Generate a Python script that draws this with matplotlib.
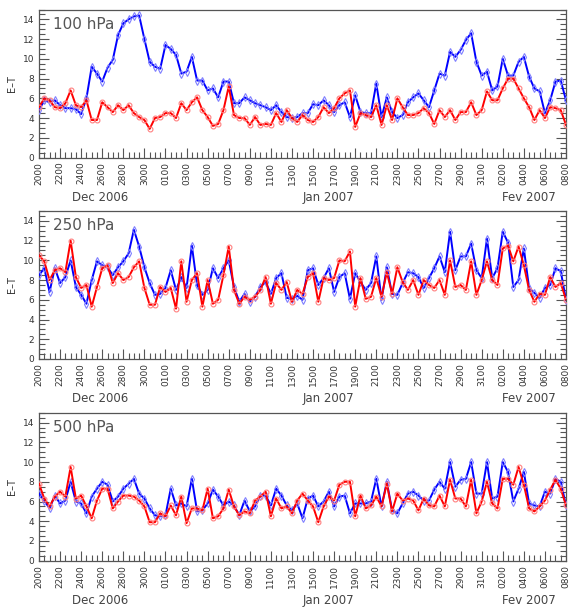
import numpy as np
import pandas as pd
import matplotlib
matplotlib.use('Agg')
import matplotlib.pyplot as plt
from matplotlib.ticker import MultipleLocator
import matplotlib.dates as mdates
import matplotlib.transforms as mtransforms

# 12-hourly E-T values, 2006-12-20 00Z .. 2007-02-08 00Z
b100 = [4.8, 5.8, 5.6, 5.8, 5.3, 5.0, 5.0, 4.9, 4.4, 6.0,
        9.2, 8.5, 7.7, 9.1, 9.9, 12.4, 13.6, 14.0, 14.3, 14.4,
        12.0, 9.7, 9.2, 9.0, 11.4, 11.0, 10.4, 8.5, 8.7, 10.2,
        7.8, 7.8, 6.8, 7.0, 6.1, 7.7, 7.7, 5.5, 5.5, 6.1,
        5.8, 5.5, 5.3, 5.1, 4.8, 5.3, 4.6, 4.1, 4.0, 4.1,
        4.5, 4.5, 5.4, 5.3, 5.8, 5.3, 4.6, 5.3, 5.6, 4.1,
        6.3, 4.6, 4.5, 4.5, 7.5, 4.1, 6.1, 4.6, 4.0, 4.3,
        5.6, 6.1, 6.5, 5.8, 5.1, 6.8, 8.5, 8.3, 10.7, 10.2,
        10.9, 11.9, 12.6, 9.7, 8.3, 8.7, 6.8, 7.2, 10.0, 8.3,
        8.3, 9.7, 10.2, 8.2, 7.0, 6.7, 4.5, 5.8, 7.7, 7.8, 5.8]
r100 = [5.1, 6.0, 5.8, 5.1, 5.0, 5.5, 6.8, 5.3, 5.1, 5.8,
        3.8, 3.8, 5.6, 5.1, 4.6, 5.3, 4.8, 5.3, 4.5, 4.1,
        3.8, 2.9, 4.0, 4.1, 4.5, 4.5, 4.0, 5.5, 4.8, 5.6,
        6.1, 4.8, 4.1, 3.2, 3.4, 4.8, 7.2, 4.3, 4.0, 4.0,
        3.3, 4.1, 3.3, 3.4, 3.3, 4.5, 3.6, 4.8, 4.0, 3.6,
        4.3, 3.8, 3.6, 4.1, 5.1, 4.5, 5.0, 6.0, 6.5, 6.8,
        3.1, 4.5, 4.3, 4.1, 5.3, 3.3, 5.3, 3.8, 6.0, 5.1,
        4.3, 4.3, 4.5, 5.0, 4.5, 3.4, 4.8, 4.1, 4.8, 3.8,
        4.6, 4.6, 5.6, 4.3, 4.8, 6.7, 5.8, 5.8, 7.0, 8.0,
        8.0, 7.0, 6.0, 5.1, 3.8, 4.8, 4.0, 5.1, 5.0, 4.8, 3.3]

b250 = [8.5, 9.2, 6.8, 9.2, 7.7, 8.3, 10.0, 7.3, 6.5, 5.6,
        8.0, 9.9, 9.5, 9.3, 8.5, 9.3, 9.9, 10.7, 13.1, 11.4,
        9.3, 7.7, 6.5, 6.6, 7.2, 9.0, 7.0, 8.3, 7.2, 11.5,
        7.5, 6.5, 7.0, 9.2, 8.2, 9.2, 10.0, 7.3, 5.8, 6.6,
        5.8, 6.3, 7.3, 7.8, 6.6, 8.2, 8.7, 6.2, 6.1, 6.4,
        6.0, 9.0, 9.2, 7.5, 8.2, 9.2, 6.8, 8.3, 8.7, 6.1,
        8.7, 7.8, 7.0, 7.7, 10.4, 6.0, 9.3, 6.6, 6.5, 7.7,
        8.8, 8.7, 8.3, 7.2, 8.2, 9.2, 10.4, 8.8, 12.9, 9.0,
        10.4, 10.4, 11.7, 9.0, 8.2, 12.2, 8.2, 9.2, 12.9, 11.8,
        7.3, 8.0, 11.2, 7.2, 6.7, 6.2, 7.2, 7.5, 9.2, 8.9, 6.0]
r250 = [10.5, 9.9, 8.0, 9.0, 9.2, 8.8, 12.0, 8.3, 7.2, 7.5,
        5.3, 7.3, 9.2, 9.5, 7.7, 8.7, 8.0, 8.3, 9.3, 9.9,
        7.2, 5.5, 5.5, 7.3, 6.8, 7.2, 5.1, 9.9, 5.8, 8.0,
        8.7, 5.3, 8.0, 5.6, 6.0, 8.5, 11.4, 7.0, 5.6, 6.3,
        6.0, 6.3, 7.0, 8.3, 5.6, 7.7, 7.0, 7.8, 5.8, 7.0,
        6.6, 8.3, 8.7, 5.8, 8.2, 8.0, 8.2, 10.0, 9.9, 10.9,
        5.3, 8.2, 6.1, 6.3, 8.2, 6.3, 8.8, 6.6, 9.3, 7.8,
        7.0, 8.0, 6.5, 8.0, 7.5, 7.2, 8.0, 6.5, 10.0, 7.3,
        7.5, 7.0, 9.9, 6.5, 8.0, 9.9, 8.0, 7.5, 11.2, 11.5,
        9.9, 11.4, 9.5, 7.0, 5.8, 6.6, 6.5, 8.3, 7.3, 7.7, 6.0]

b500 = [6.8, 6.1, 5.3, 6.6, 5.8, 6.1, 8.0, 6.0, 5.8, 4.8,
        6.5, 7.3, 8.0, 7.7, 6.0, 6.5, 7.3, 7.8, 8.3, 6.8,
        6.3, 5.3, 4.6, 4.5, 4.6, 7.3, 5.6, 5.8, 5.5, 8.3,
        5.0, 5.1, 5.8, 7.2, 6.5, 5.6, 6.0, 5.6, 4.6, 6.1,
        5.0, 5.5, 6.6, 6.6, 5.6, 7.3, 6.6, 5.6, 5.1, 5.8,
        4.3, 6.3, 6.6, 5.5, 6.0, 7.0, 5.5, 6.5, 6.6, 4.8,
        5.8, 5.8, 5.8, 6.0, 8.3, 5.5, 8.0, 5.1, 4.8, 5.8,
        6.8, 7.0, 6.6, 6.1, 6.1, 7.2, 8.0, 7.3, 10.0, 7.5,
        8.2, 8.3, 10.0, 6.8, 6.8, 10.0, 6.3, 6.5, 10.0, 9.0,
        6.0, 7.3, 9.0, 5.8, 5.6, 5.5, 7.0, 6.8, 8.3, 8.0, 5.6]
r500 = [7.8, 6.3, 5.5, 6.5, 7.0, 6.5, 9.5, 6.3, 6.6, 5.5,
        4.3, 6.1, 7.3, 7.3, 5.3, 6.0, 6.6, 6.6, 6.5, 6.1,
        5.5, 3.9, 3.9, 4.8, 4.5, 5.6, 4.6, 6.5, 3.8, 5.3,
        5.3, 5.1, 7.3, 4.3, 4.5, 5.3, 7.2, 5.5, 4.6, 5.0,
        4.8, 6.1, 6.5, 7.0, 4.5, 6.3, 5.3, 5.5, 4.8, 6.1,
        6.8, 6.1, 5.5, 3.9, 5.5, 6.5, 6.1, 7.7, 8.0, 8.0,
        4.5, 6.6, 5.3, 5.6, 6.5, 5.5, 7.8, 5.0, 6.8, 6.1,
        6.3, 6.1, 5.1, 6.3, 5.6, 5.5, 6.6, 5.5, 8.2, 6.3,
        6.3, 5.5, 8.2, 4.8, 6.0, 8.0, 5.8, 5.3, 8.3, 8.3,
        7.7, 9.5, 7.7, 5.3, 5.0, 5.5, 6.1, 7.2, 8.2, 7.3, 5.6]

levels = ['100 hPa', '250 hPa', '500 hPa']
blue_series = [b100, b250, b500]
red_series = [r100, r250, r500]
months = [('2006-12-25 19:00', 'Dec 2006'),
          ('2007-01-16 12:00', 'Jan 2007'),
          ('2007-02-04 12:00', 'Fev 2007')]

times = pd.date_range('2006-12-20', periods=len(b100), freq='12h')
major = pd.date_range('2006-12-20', '2007-02-08', freq='2D')

fig = plt.figure(figsize=(5.69, 6.11), dpi=100)
W, H = 569.0, 611.0
bottoms = [157.5, 359.0, 560.7]   # pixel row of the y=0 line
ax_h = 148.0

frame_c = '#555555'
for k in range(3):
    ax = fig.add_axes([39 / W, 1 - bottoms[k] / H, 527 / W, ax_h / H])
    ax.plot(times, blue_series[k], color='#0000ff', lw=1.4, marker='d', ms=4,
            mfc='none', mec='#8080ff', mew=0.8, zorder=3)
    ax.plot(times, red_series[k], color='#ff0000', lw=1.4, marker='o', ms=3.5,
            mfc='none', mec='#ff8080', mew=0.8, zorder=4)

    ax.set_xlim(times[0], times[-1])
    ax.set_ylim(0, 15)
    ax.set_xticks(major)
    ax.set_xticks(times, minor=True)
    ax.xaxis.set_major_formatter(mdates.DateFormatter('%d%H'))
    ax.yaxis.set_major_locator(MultipleLocator(2))
    ax.yaxis.set_minor_locator(MultipleLocator(0.5))
    ax.tick_params(axis='x', which='both', direction='in', top=False,
                   labelsize=6.5, labelrotation=90, colors=frame_c, pad=3)
    ax.tick_params(axis='y', which='both', direction='in', right=True,
                   labelsize=6.5, colors=frame_c)
    ax.tick_params(which='major', length=7, width=0.8)
    ax.tick_params(which='minor', length=4, width=0.8)
    for lab in ax.get_xticklabels():
        lab.set_color('#333333')
    for lab in ax.get_yticklabels():
        lab.set_color('#333333')
    for s in ax.spines.values():
        s.set_color(frame_c)
        s.set_linewidth(0.9)

    ax.set_ylabel('E\u2013T', fontsize=7, color='#333333', labelpad=4)
    ax.text(0.026, 0.9, levels[k], transform=ax.transAxes, fontsize=11,
            color='#555555', va='center', ha='left')

    trans = mtransforms.blended_transform_factory(ax.transData, ax.transAxes)
    for when, name in months:
        ax.text(pd.Timestamp(when), -0.27, name, transform=trans, ha='center',
                va='center', fontsize=8.5, color='#444444')

fig.savefig('out.png', dpi=100)
